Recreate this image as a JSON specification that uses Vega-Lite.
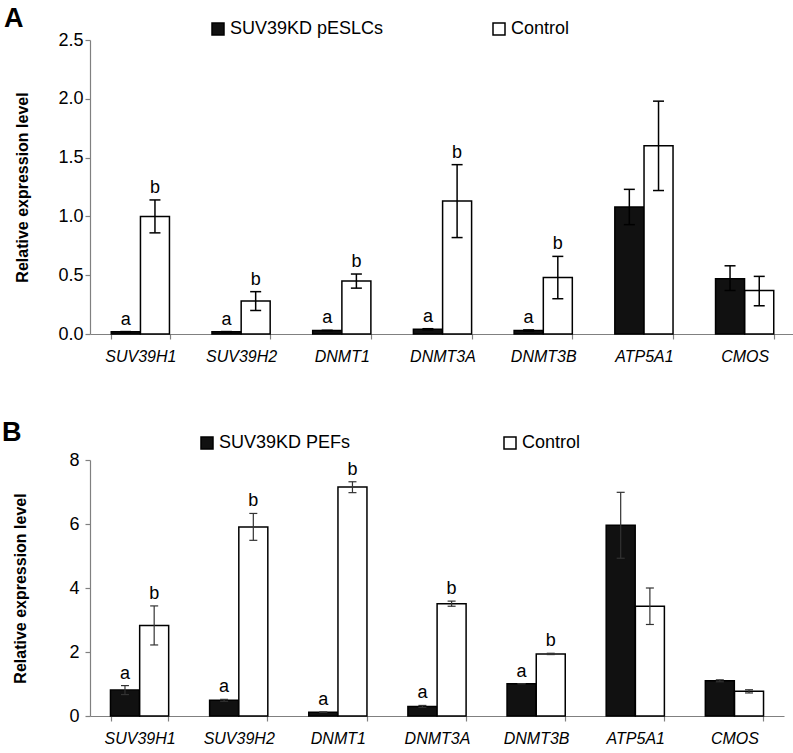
{
  "$schema": "https://vega.github.io/schema/vega-lite/v6.json",
  "padding": {"left": 2, "top": 5, "right": 0, "bottom": 0},
  "background": "white",
  "datasets": {
    "panelA": [
      {"gene": "SUV39H1", "group": "SUV39KD pESLCs", "value": 0.02, "lo": 0.02, "hi": 0.02, "label": "a"},
      {"gene": "SUV39H1", "group": "Control", "value": 1.0, "lo": 0.86, "hi": 1.14, "label": "b"},
      {"gene": "SUV39H2", "group": "SUV39KD pESLCs", "value": 0.02, "lo": 0.02, "hi": 0.02, "label": "a"},
      {"gene": "SUV39H2", "group": "Control", "value": 0.28, "lo": 0.2, "hi": 0.36, "label": "b"},
      {"gene": "DNMT1", "group": "SUV39KD pESLCs", "value": 0.03, "lo": 0.03, "hi": 0.03, "label": "a"},
      {"gene": "DNMT1", "group": "Control", "value": 0.45, "lo": 0.39, "hi": 0.51, "label": "b"},
      {"gene": "DNMT3A", "group": "SUV39KD pESLCs", "value": 0.04, "lo": 0.035, "hi": 0.045, "label": "a"},
      {"gene": "DNMT3A", "group": "Control", "value": 1.13, "lo": 0.82, "hi": 1.44, "label": "b"},
      {"gene": "DNMT3B", "group": "SUV39KD pESLCs", "value": 0.03, "lo": 0.025, "hi": 0.035, "label": "a"},
      {"gene": "DNMT3B", "group": "Control", "value": 0.48, "lo": 0.3, "hi": 0.66, "label": "b"},
      {"gene": "ATP5A1", "group": "SUV39KD pESLCs", "value": 1.08, "lo": 0.93, "hi": 1.23, "label": ""},
      {"gene": "ATP5A1", "group": "Control", "value": 1.6, "lo": 1.22, "hi": 1.98, "label": ""},
      {"gene": "CMOS", "group": "SUV39KD pESLCs", "value": 0.47, "lo": 0.37, "hi": 0.58, "label": ""},
      {"gene": "CMOS", "group": "Control", "value": 0.37, "lo": 0.24, "hi": 0.49, "label": ""}
    ],
    "panelB": [
      {"gene": "SUV39H1", "group": "SUV39KD PEFs", "value": 0.81, "lo": 0.67, "hi": 0.95, "label": "a"},
      {"gene": "SUV39H1", "group": "Control", "value": 2.83, "lo": 2.22, "hi": 3.44, "label": "b"},
      {"gene": "SUV39H2", "group": "SUV39KD PEFs", "value": 0.49, "lo": 0.46, "hi": 0.52, "label": "a"},
      {"gene": "SUV39H2", "group": "Control", "value": 5.91, "lo": 5.49, "hi": 6.33, "label": "b"},
      {"gene": "DNMT1", "group": "SUV39KD PEFs", "value": 0.12, "lo": 0.12, "hi": 0.12, "label": "a"},
      {"gene": "DNMT1", "group": "Control", "value": 7.16, "lo": 6.98, "hi": 7.32, "label": "b"},
      {"gene": "DNMT3A", "group": "SUV39KD PEFs", "value": 0.3, "lo": 0.27, "hi": 0.33, "label": "a"},
      {"gene": "DNMT3A", "group": "Control", "value": 3.51, "lo": 3.43, "hi": 3.59, "label": "b"},
      {"gene": "DNMT3B", "group": "SUV39KD PEFs", "value": 1.01, "lo": 1.01, "hi": 1.01, "label": "a"},
      {"gene": "DNMT3B", "group": "Control", "value": 1.94, "lo": 1.92, "hi": 1.96, "label": "b"},
      {"gene": "ATP5A1", "group": "SUV39KD PEFs", "value": 5.96, "lo": 4.93, "hi": 6.99, "label": ""},
      {"gene": "ATP5A1", "group": "Control", "value": 3.43, "lo": 2.86, "hi": 4.0, "label": ""},
      {"gene": "CMOS", "group": "SUV39KD PEFs", "value": 1.1, "lo": 1.07, "hi": 1.13, "label": ""},
      {"gene": "CMOS", "group": "Control", "value": 0.77, "lo": 0.72, "hi": 0.82, "label": ""}
    ]
  },
  "config": {
    "view": {"stroke": null},
    "font": "Liberation Sans",
    "axis": {
      "grid": false,
      "domainColor": "#808080",
      "tickColor": "#808080",
      "domainWidth": 1.2,
      "tickWidth": 1.2,
      "tickSize": 5,
      "labelColor": "#000000",
      "labelFont": "Liberation Sans",
      "titleFont": "Liberation Sans",
      "titleColor": "#000000"
    },
    "legend": {
      "orient": "none",
      "direction": "horizontal",
      "title": null,
      "symbolType": "square",
      "symbolSize": 144,
      "symbolStrokeColor": "#000000",
      "symbolStrokeWidth": 1.5,
      "labelFontSize": 18,
      "labelFont": "Liberation Sans",
      "labelColor": "#000000",
      "labelOffset": 3,
      "padding": 0
    },
    "tick": {"opacity": 1}
  },
  "resolve": {"scale": {"fill": "independent", "y": "independent", "x": "independent"}, "legend": {"fill": "independent"}},
  "spacing": 55,
  "vconcat": [
    {
      "width": 705,
      "height": 294,
      "title": {"text": "A", "anchor": "start", "frame": "group", "dx": -86, "dy": 17, "fontSize": 27, "fontWeight": 900, "font": "Liberation Sans", "color": "#000000"},
      "data": {"name": "panelA"},
      "encoding": {
        "x": {
          "field": "gene", "type": "nominal",
          "sort": ["SUV39H1", "SUV39H2", "DNMT1", "DNMT3A", "DNMT3B", "ATP5A1", "CMOS"],
          "scale": {"paddingInner": 0.42, "paddingOuter": 0.21},
          "axis": {"title": null, "labelAngle": 0, "labelFontStyle": "italic", "labelFontSize": 16, "labelPadding": 9, "tickBand": "extent"}
        },
        "y": {"field": "value", "type": "quantitative", "title": "Relative expression level",
          "scale": {"domain": [0, 2.5], "nice": false},
          "axis": {"values": [0, 0.5, 1, 1.5, 2, 2.5], "format": ".1f", "labelFontSize": 18, "labelPadding": 2, "titleFontSize": 16, "titleFontWeight": "bold", "titleX": -60, "titleY": 147}}
      },
      "layer": [
        {
          "transform": [{"filter": "datum.group !== 'Control'"}],
          "layer": [
            {"mark": {"type": "bar", "stroke": "#000000", "strokeWidth": 1.5, "width": 29, "xOffset": -14.6},
             "encoding": {"fill": {"field": "group", "type": "nominal",
               "scale": {"domain": ["SUV39KD pESLCs", "Control"], "range": ["#111111", "#ffffff"]},
               "legend": {"legendX": 119, "legendY": -20, "columnPadding": 106}}}},
            {"mark": {"type": "rule", "color": "#000000", "strokeWidth": 1.5, "xOffset": -14.6},
             "encoding": {"y": {"field": "lo", "type": "quantitative", "title": "Relative expression level"}, "y2": {"field": "hi"}}},
            {"mark": {"type": "tick", "color": "#000000", "thickness": 1.5, "size": 11, "xOffset": -14.6},
             "encoding": {"y": {"field": "lo", "type": "quantitative", "title": "Relative expression level"}}},
            {"mark": {"type": "tick", "color": "#000000", "thickness": 1.5, "size": 11, "xOffset": -14.6},
             "encoding": {"y": {"field": "hi", "type": "quantitative", "title": "Relative expression level"}}},
            {"mark": {"type": "text", "baseline": "bottom", "dy": -3, "fontSize": 18, "color": "#000000", "xOffset": -14.6},
             "encoding": {"y": {"field": "hi", "type": "quantitative", "title": "Relative expression level"}, "text": {"field": "label"}}}
          ]
        },
        {
          "transform": [{"filter": "datum.group === 'Control'"}],
          "layer": [
            {"mark": {"type": "bar", "stroke": "#000000", "strokeWidth": 1.5, "width": 29, "xOffset": 14.6},
             "encoding": {"fill": {"field": "group", "type": "nominal",
               "scale": {"domain": ["SUV39KD pESLCs", "Control"], "range": ["#111111", "#ffffff"]},
               "legend": {"legendX": 119, "legendY": -20, "columnPadding": 106}}}},
            {"mark": {"type": "rule", "color": "#000000", "strokeWidth": 1.5, "xOffset": 14.6},
             "encoding": {"y": {"field": "lo", "type": "quantitative", "title": "Relative expression level"}, "y2": {"field": "hi"}}},
            {"mark": {"type": "tick", "color": "#000000", "thickness": 1.5, "size": 11, "xOffset": 14.6},
             "encoding": {"y": {"field": "lo", "type": "quantitative", "title": "Relative expression level"}}},
            {"mark": {"type": "tick", "color": "#000000", "thickness": 1.5, "size": 11, "xOffset": 14.6},
             "encoding": {"y": {"field": "hi", "type": "quantitative", "title": "Relative expression level"}}},
            {"mark": {"type": "text", "baseline": "bottom", "dy": -3, "fontSize": 18, "color": "#000000", "xOffset": 14.6},
             "encoding": {"y": {"field": "hi", "type": "quantitative", "title": "Relative expression level"}, "text": {"field": "label"}}}
          ]
        }
      ]
    },
    {
      "width": 694,
      "height": 256,
      "title": {"text": "B", "anchor": "start", "frame": "group", "dx": -88, "dy": 17, "fontSize": 27, "fontWeight": 900, "font": "Liberation Sans", "color": "#000000"},
      "data": {"name": "panelB"},
      "encoding": {
        "x": {
          "field": "gene", "type": "nominal",
          "sort": ["SUV39H1", "SUV39H2", "DNMT1", "DNMT3A", "DNMT3B", "ATP5A1", "CMOS"],
          "scale": {"paddingInner": 0.42, "paddingOuter": 0.21},
          "axis": {"title": null, "labelAngle": 0, "labelFontStyle": "italic", "labelFontSize": 16, "labelPadding": 9, "tickBand": "extent"}
        },
        "y": {"field": "value", "type": "quantitative", "title": "Relative expression level",
          "scale": {"domain": [0, 8], "nice": false},
          "axis": {"values": [0, 2, 4, 6, 8], "format": "d", "labelFontSize": 18, "labelPadding": 6, "titleFontSize": 16, "titleFontWeight": "bold", "titleX": -62, "titleY": 128}}
      },
      "layer": [
        {
          "transform": [{"filter": "datum.group !== 'Control'"}],
          "layer": [
            {"mark": {"type": "bar", "stroke": "#000000", "strokeWidth": 1.5, "width": 29, "xOffset": -14.6},
             "encoding": {"fill": {"field": "group", "type": "nominal",
               "scale": {"domain": ["SUV39KD PEFs", "Control"], "range": ["#111111", "#ffffff"]},
               "legend": {"legendX": 108, "legendY": -26, "columnPadding": 150}}}},
            {"mark": {"type": "rule", "color": "#333333", "strokeWidth": 1.2, "xOffset": -14.6},
             "encoding": {"y": {"field": "lo", "type": "quantitative", "title": "Relative expression level"}, "y2": {"field": "hi"}}},
            {"mark": {"type": "tick", "color": "#333333", "thickness": 1.2, "size": 8, "xOffset": -14.6},
             "encoding": {"y": {"field": "lo", "type": "quantitative", "title": "Relative expression level"}}},
            {"mark": {"type": "tick", "color": "#333333", "thickness": 1.2, "size": 8, "xOffset": -14.6},
             "encoding": {"y": {"field": "hi", "type": "quantitative", "title": "Relative expression level"}}},
            {"mark": {"type": "text", "baseline": "bottom", "dy": -3, "fontSize": 18, "color": "#000000", "xOffset": -14.6},
             "encoding": {"y": {"field": "hi", "type": "quantitative", "title": "Relative expression level"}, "text": {"field": "label"}}}
          ]
        },
        {
          "transform": [{"filter": "datum.group === 'Control'"}],
          "layer": [
            {"mark": {"type": "bar", "stroke": "#000000", "strokeWidth": 1.5, "width": 29, "xOffset": 14.6},
             "encoding": {"fill": {"field": "group", "type": "nominal",
               "scale": {"domain": ["SUV39KD PEFs", "Control"], "range": ["#111111", "#ffffff"]},
               "legend": {"legendX": 108, "legendY": -26, "columnPadding": 150}}}},
            {"mark": {"type": "rule", "color": "#333333", "strokeWidth": 1.2, "xOffset": 14.6},
             "encoding": {"y": {"field": "lo", "type": "quantitative", "title": "Relative expression level"}, "y2": {"field": "hi"}}},
            {"mark": {"type": "tick", "color": "#333333", "thickness": 1.2, "size": 8, "xOffset": 14.6},
             "encoding": {"y": {"field": "lo", "type": "quantitative", "title": "Relative expression level"}}},
            {"mark": {"type": "tick", "color": "#333333", "thickness": 1.2, "size": 8, "xOffset": 14.6},
             "encoding": {"y": {"field": "hi", "type": "quantitative", "title": "Relative expression level"}}},
            {"mark": {"type": "text", "baseline": "bottom", "dy": -3, "fontSize": 18, "color": "#000000", "xOffset": 14.6},
             "encoding": {"y": {"field": "hi", "type": "quantitative", "title": "Relative expression level"}, "text": {"field": "label"}}}
          ]
        }
      ]
    }
  ]
}
